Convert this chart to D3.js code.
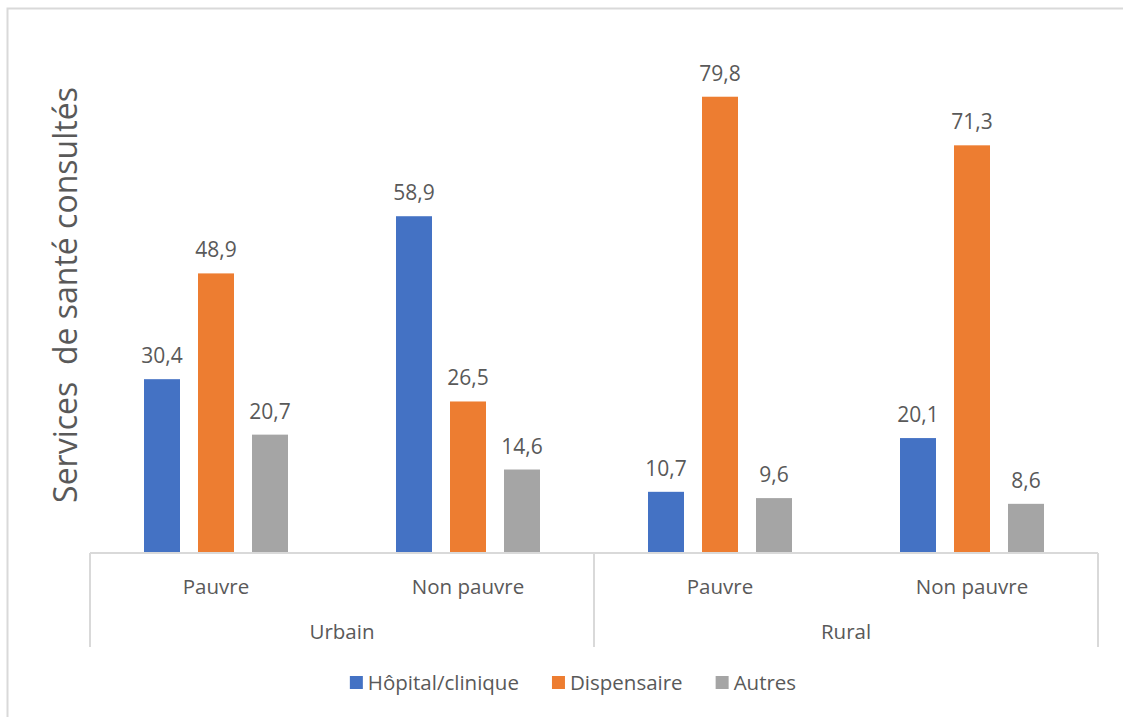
<!DOCTYPE html>
<html>
<head>
<meta charset="utf-8">
<script src="https://cdn.jsdelivr.net/npm/d3@7"></script>
<style>
  html, body { margin: 0; padding: 0; background: #fff; }
  svg { display: block; font-family: "Open Sans", "Noto Sans", sans-serif; }
</style>
</head>
<body>
<svg id="chart" width="1123" height="717"></svg>
<script>
// Milieu de résidence et statut de pauvreté
const zones = ["Urbain", "Urbain", "Rural", "Rural"];
const statuts = ["Pauvre", "Non pauvre", "Pauvre", "Non pauvre"];
const zoneLabels = ["Urbain", "Rural"];

// Séries (%)
const seriesNames = ["Hôpital/clinique", "Dispensaire", "Autres"];
const hopital = [30.4, 58.9, 10.7, 20.1];
const dispensaire = [48.9, 26.5, 79.8, 71.3];
const autres = [20.7, 14.6, 9.6, 8.6];
const seriesColors = ["#4472C4", "#ED7D31", "#A5A5A5"];

const yTitle = "Services\u00a0 de santé consultés";

const svg = d3.select("#chart");
const textColor = "#595959";
const lineColor = "#D9D9D9";

// Cadre du graphique
svg.append("rect")
  .attr("x", 7.5).attr("y", 8.5)
  .attr("width", 1130).attr("height", 720)
  .attr("fill", "#fff").attr("stroke", lineColor).attr("stroke-width", 2);

const plot = { left: 90, right: 1098, top: 38.4, bottom: 553 };
const catIdx = statuts.map((_, i) => i);

const x0 = d3.scaleBand().domain(catIdx).range([plot.left, plot.right]).padding(0);
const x1 = d3.scaleBand().domain(seriesNames)
  .range([54, 198]).paddingInner(1 / 3).paddingOuter(0);
const y = d3.scaleLinear().domain([0, 90]).range([plot.bottom, plot.top]);

const values = [hopital, dispensaire, autres];
const rows = [];
seriesNames.forEach((s, si) => {
  catIdx.forEach(ci => rows.push({ s, si, ci, v: values[si][ci] }));
});

const fmt = v => d3.format(".1f")(v).replace(".", ",");

// Barres
svg.append("g").selectAll("rect").data(rows).join("rect")
  .attr("x", d => x0(d.ci) + x1(d.s))
  .attr("y", d => y(d.v))
  .attr("width", x1.bandwidth())
  .attr("height", d => y(0) - y(d.v))
  .attr("fill", d => seriesColors[d.si]);

// Étiquettes de valeurs
svg.append("g").selectAll("text").data(rows).join("text")
  .attr("x", d => x0(d.ci) + x1(d.s) + x1.bandwidth() / 2)
  .attr("y", d => y(d.v) - 16)
  .attr("text-anchor", "middle")
  .attr("fill", textColor)
  .style("font-size", "21px")
  .text(d => fmt(d.v));

// Axe des catégories à deux niveaux
const axis = svg.append("g").attr("stroke", lineColor).attr("stroke-width", 2);
axis.append("line")
  .attr("x1", plot.left).attr("x2", plot.right)
  .attr("y1", plot.bottom).attr("y2", plot.bottom);
const groupEdges = [0, 2, 4].map(i => i < 4 ? x0(i) : plot.right);
axis.selectAll("line.sep").data(groupEdges).join("line")
  .attr("class", "sep")
  .attr("x1", d => d).attr("x2", d => d)
  .attr("y1", plot.bottom).attr("y2", 647);

svg.append("g").selectAll("text").data(catIdx).join("text")
  .attr("x", i => x0(i) + x0.bandwidth() / 2)
  .attr("y", 594)
  .attr("text-anchor", "middle")
  .attr("fill", textColor)
  .style("font-size", "20.5px")
  .text(i => statuts[i]);

svg.append("g").selectAll("text").data(zoneLabels).join("text")
  .attr("x", (z, k) => (x0(k * 2) + x0(k * 2 + 1) + x0.bandwidth()) / 2)
  .attr("y", 639)
  .attr("text-anchor", "middle")
  .attr("fill", textColor)
  .style("font-size", "20.5px")
  .text(z => z);

// Titre de l'axe vertical
svg.append("text")
  .attr("transform", "translate(77, 295) rotate(-90)")
  .attr("text-anchor", "middle")
  .attr("fill", textColor)
  .style("font-size", "32px")
  .text(yTitle);

// Légende
const legend = svg.append("g");
const items = legend.selectAll("g").data(seriesNames).join("g");
items.append("rect")
  .attr("width", 13).attr("height", 13)
  .attr("y", -14)
  .attr("fill", (d, i) => seriesColors[i]);
items.append("text")
  .attr("x", 18).attr("y", 0)
  .attr("fill", textColor)
  .style("font-size", "20.5px")
  .text(d => d);
const widths = [];
items.each(function () {
  widths.push(this.getBBox().width);
});
const gap = 33;
const total = d3.sum(widths) + gap * (widths.length - 1);
let start = 573 - total / 2;
items.attr("transform", (d, i) => {
  const tx = start;
  start += widths[i] + gap;
  return `translate(${tx}, 690)`;
});
</script>
</body>
</html>
